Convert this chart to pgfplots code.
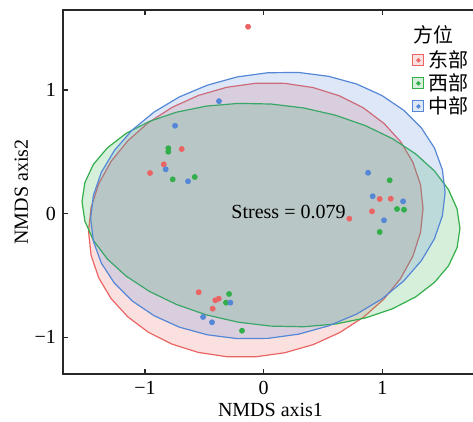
\documentclass[border=0pt]{standalone}
\usepackage{fontspec}
\setmainfont{Liberation Serif}
\newfontfamily\cjk{Noto Sans CJK SC}
\usepackage{pgfplots}
\pgfplotsset{compat=1.18}
\definecolor{cR}{RGB}{235,100,100}
\definecolor{cG}{RGB}{50,175,75}
\definecolor{cB}{RGB}{85,135,215}
\definecolor{axc}{RGB}{40,40,40}
\begin{document}
\begin{tikzpicture}
\begin{axis}[
  scale only axis, width=207.5pt, height=182pt,
  xmin=-1.691, xmax=1.805, ymin=-1.296, ymax=1.647,
  xtick={-1,0,1}, xticklabels={−1,0,1},
  ytick={-1,0,1}, yticklabels={−1,0,1},
  tick align=inside, major tick length=2.5pt,
  tick style={axc, line width=0.6pt},
  axis line style={axc, line width=0.7pt},
  xlabel={NMDS axis1}, ylabel={NMDS axis2},
  xlabel style={yshift=2.5pt},
  ylabel style={yshift=-3.5pt},
  clip=true,
  legend style={draw=none, fill=none, at={(rel axis cs:0.841,0.892)}, anchor=north west,
    inner sep=0pt, row sep=1pt, column sep=1.5pt, nodes={inner sep=0.3pt, font=\cjk}},
  legend cell align=left,
]
% points (drawn below the ellipses)
\addplot[forget plot, cR, only marks, mark=*, mark size=1.25pt] coordinates {
(-0.691,0.523) (-0.842,0.399) (-0.958,0.329) (0.977,0.119) (1.070,0.121) (0.912,0.019) (0.721,-0.040) (-0.548,-0.635) (-0.408,-0.700) (-0.379,-0.687) (-0.430,-0.768) (-0.132,1.512)};
\addplot[forget plot, cG, only marks, mark=*, mark size=1.25pt] coordinates {
(-0.804,0.529) (-0.804,0.501) (-0.767,0.278) (-0.581,0.297) (1.061,0.270) (1.123,0.038) (1.182,0.032) (0.977,-0.148) (-0.292,-0.649) (-0.318,-0.719) (-0.183,-0.946)};
\addplot[forget plot, cB, only marks, mark=*, mark size=1.25pt] coordinates {
(-0.377,0.910) (-0.747,0.711) (-0.826,0.359) (-0.638,0.262) (0.879,0.331) (0.918,0.141) (1.174,0.100) (1.013,-0.053) (-0.281,-0.719) (-0.511,-0.835) (-0.436,-0.878)};
% ellipses
\addplot[forget plot, draw=cR, line width=0.6pt, fill=cR, fill opacity=0.2] coordinates {
(1.342,0.042) (1.321,0.233) (1.257,0.415) (1.153,0.583) (1.012,0.731) (0.839,0.856) (0.638,0.953) (0.415,1.020) (0.178,1.054) (-0.067,1.055) (-0.312,1.022) (-0.549,0.957) (-0.772,0.860) (-0.973,0.736) (-1.146,0.589) (-1.287,0.422) (-1.391,0.240) (-1.455,0.049) (-1.476,-0.144) (-1.455,-0.335) (-1.391,-0.517) (-1.287,-0.685) (-1.146,-0.833) (-0.973,-0.958) (-0.772,-1.055) (-0.549,-1.122) (-0.312,-1.156) (-0.067,-1.157) (0.178,-1.124) (0.415,-1.059) (0.638,-0.962) (0.839,-0.838) (1.012,-0.691) (1.153,-0.524) (1.257,-0.342) (1.321,-0.151)} -- cycle;
\addplot[forget plot, draw=cG, line width=0.6pt, fill=cG, fill opacity=0.2] coordinates {
(1.653,-0.120) (1.629,0.038) (1.557,0.194) (1.440,0.344) (1.281,0.483) (1.084,0.607) (0.857,0.712) (0.606,0.796) (0.337,0.855) (0.061,0.887) (-0.215,0.892) (-0.484,0.870) (-0.735,0.821) (-0.962,0.747) (-1.159,0.650) (-1.318,0.532) (-1.435,0.399) (-1.507,0.252) (-1.531,0.098) (-1.507,-0.060) (-1.435,-0.216) (-1.318,-0.366) (-1.159,-0.505) (-0.962,-0.629) (-0.735,-0.734) (-0.484,-0.818) (-0.215,-0.877) (0.061,-0.909) (0.337,-0.914) (0.606,-0.892) (0.857,-0.843) (1.084,-0.769) (1.281,-0.672) (1.440,-0.554) (1.557,-0.421) (1.629,-0.274)} -- cycle;
\addplot[forget plot, draw=cB, line width=0.6pt, fill=cB, fill opacity=0.2] coordinates {
(1.528,0.171) (1.505,0.356) (1.438,0.532) (1.328,0.694) (1.179,0.837) (0.995,0.956) (0.782,1.049) (0.546,1.111) (0.294,1.142) (0.035,1.140) (-0.224,1.106) (-0.476,1.039) (-0.712,0.944) (-0.925,0.821) (-1.109,0.676) (-1.258,0.512) (-1.368,0.335) (-1.435,0.149) (-1.458,-0.039) (-1.435,-0.224) (-1.368,-0.400) (-1.258,-0.562) (-1.109,-0.705) (-0.925,-0.824) (-0.712,-0.917) (-0.476,-0.979) (-0.224,-1.010) (0.035,-1.008) (0.294,-0.974) (0.546,-0.907) (0.782,-0.812) (0.995,-0.689) (1.179,-0.544) (1.328,-0.380) (1.438,-0.203) (1.505,-0.017)} -- cycle;
% legend
\addlegendimage{legend image code/.code={\draw[cR, line width=0.5pt, fill=cR!20] (0pt,-2.75pt) rectangle (5.5pt,2.75pt); \fill[cR] (2.75pt,0pt) circle (0.9pt);}}
\addlegendentry{东部}
\addlegendimage{legend image code/.code={\draw[cG, line width=0.5pt, fill=cG!20] (0pt,-2.75pt) rectangle (5.5pt,2.75pt); \fill[cG] (2.75pt,0pt) circle (0.9pt);}}
\addlegendentry{西部}
\addlegendimage{legend image code/.code={\draw[cB, line width=0.5pt, fill=cB!20] (0pt,-2.75pt) rectangle (5.5pt,2.75pt); \fill[cB] (2.75pt,0pt) circle (0.9pt);}}
\addlegendentry{中部}
\node[anchor=north west, inner sep=0pt, font=\cjk] at (rel axis cs:0.843,0.958) {方位};
\node[anchor=base west, inner sep=0pt] at (axis cs:-0.275,-0.035) {Stress = 0.079};
\coordinate (bbSW) at (axis cs:-2.222,-1.684);
\coordinate (bbNE) at (axis cs:1.763,1.728);
\end{axis}
\pgfresetboundingbox
\useasboundingbox (bbSW) rectangle (bbNE);
\end{tikzpicture}
\end{document}
